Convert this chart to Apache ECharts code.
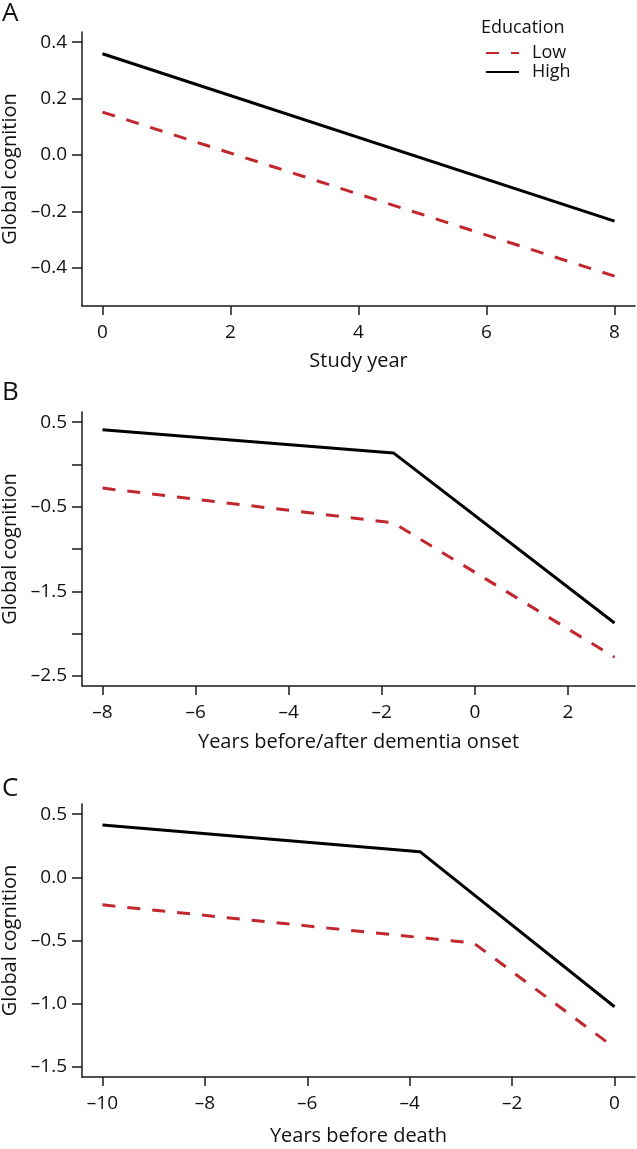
<!DOCTYPE html>
<html><head><meta charset="utf-8">
<script src="https://cdn.jsdelivr.net/npm/echarts@6/dist/echarts.min.js"></script>
<style>html,body{margin:0;padding:0;background:#fff}#c{width:637px;height:1149px}</style>
</head><body><div id="c"></div>
<script>
// ---- text ----
const panelLetters = ['A', 'B', 'C'];
const xTitles = ['Study year', 'Years before/after dementia onset', 'Years before death'];
const yTitle = 'Global cognition';
const legendTitle = 'Education';
const seriesNames = ['Low', 'High'];

// ---- Panel A ----
const xLowA = [0, 8];
const lowA = [0.152, -0.43];
const xHighA = [0, 8];
const highA = [0.359, -0.235];
const xTicksA = [0, 2, 4, 6, 8];
const yTicksA = [-0.4, -0.2, 0.0, 0.2, 0.4];
const yLabelsA = [-0.4, -0.2, 0.0, 0.2, 0.4];

// ---- Panel B ----
const xLowB = [-8, -1.75, 3];
const lowB = [-0.28, -0.69, -2.28];
const xHighB = [-8, -1.75, 3];
const highB = [0.41, 0.136, -1.875];
const xTicksB = [-8, -6, -4, -2, 0, 2];
const yTicksB = [-2.5, -2.0, -1.5, -1.0, -0.5, 0.0, 0.5];
const yLabelsB = [-2.5, -1.5, -0.5, 0.5];

// ---- Panel C ----
const xLowC = [-10, -2.75, 0];
const lowC = [-0.218, -0.52, -1.348];
const xHighC = [-10, -3.8, 0];
const highC = [0.413, 0.203, -1.024];
const xTicksC = [-10, -8, -6, -4, -2, 0];
const yTicksC = [-1.5, -1.0, -0.5, 0.0, 0.5];
const yLabelsC = [-1.5, -1.0, -0.5, 0.0, 0.5];

// axis limits (before 4% expansion)
const xLims = [[0, 8], [-8, 3], [-10, 0]];
const yLims = [[-0.5, 0.4], [-2.5, 0.5], [-1.5, 0.5]];

const FONT = 'Open Sans';
const RED = '#C1272D';
const BLACK = '#000000';
const AXC = '#1a1a1a';

function expand(l) { const d = (l[1] - l[0]) * 0.04; return [l[0] - d, l[1] + d]; }
function dash(s) { return String(s).replace('-', '\u2013'); }

const panels = [
  {xl: xLowA, yl: lowA, xh: xHighA, yh: highA, xt: xTicksA, yt: yTicksA, ylab: yLabelsA, dec: 1},
  {xl: xLowB, yl: lowB, xh: xHighB, yh: highB, xt: xTicksB, yt: yTicksB, ylab: yLabelsB, dec: 1},
  {xl: xLowC, yl: lowC, xh: xHighC, yh: highC, xt: xTicksC, yt: yTicksC, ylab: yLabelsC, dec: 1}
];
const gridTops = [32, 412, 804];
const gridHeights = [274, 274, 273];
const nameGaps = [45, 46, 49];

const grid = [], xAxis = [], yAxis = [], series = [];
panels.forEach((p, i) => {
  grid.push({left: 82, right: 2, top: gridTops[i], height: gridHeights[i],
    containLabel: false, outerBoundsMode: 'none'});
  const xr = expand(xLims[i]), yr = expand(yLims[i]);
  xAxis.push({
    type: 'value', gridIndex: i, min: xr[0], max: xr[1],
    name: xTitles[i], nameLocation: 'middle', nameGap: nameGaps[i],
    nameTextStyle: {fontFamily: FONT, fontSize: 20, color: '#111'},
    axisLine: {show: true, onZero: false, lineStyle: {color: AXC, width: 1.5}},
    axisTick: {show: true, length: 9, lineStyle: {color: AXC, width: 1.5}, customValues: p.xt},
    axisLabel: {show: true, margin: 17, fontFamily: FONT, fontSize: 19, color: '#111',
      customValues: p.xt, formatter: v => dash(Math.round(v))},
    splitLine: {show: false}
  });
  yAxis.push({
    type: 'value', gridIndex: i, min: yr[0], max: yr[1],
    name: yTitle, nameLocation: 'middle', nameGap: 55, nameRotate: 90,
    nameTextStyle: {fontFamily: FONT, fontSize: 20, color: '#111'},
    axisLine: {show: true, onZero: false, lineStyle: {color: AXC, width: 1.5}},
    axisTick: {show: true, length: 10, lineStyle: {color: AXC, width: 1.5}, customValues: p.yt},
    axisLabel: {show: true, margin: 15, fontFamily: FONT, fontSize: 19, color: '#111',
      customValues: p.ylab, formatter: v => dash(Number(v).toFixed(p.dec))},
    splitLine: {show: false}
  });
  series.push({
    name: seriesNames[0], type: 'line', xAxisIndex: i, yAxisIndex: i,
    data: p.xl.map((x, k) => [x, p.yl[k]]), symbol: 'none', silent: true,
    lineStyle: {color: RED, width: 3, type: [13, 12], cap: 'butt'},
    itemStyle: {color: RED}
  });
  series.push({
    name: seriesNames[1], type: 'line', xAxisIndex: i, yAxisIndex: i,
    data: p.xh.map((x, k) => [x, p.yh[k]]), symbol: 'none', silent: true,
    lineStyle: {color: BLACK, width: 3, type: 'solid'},
    itemStyle: {color: BLACK}
  });
});

const letterTops = [1, 380, 776];
const title = panelLetters.map((t, i) => ({
  text: t, left: 2, top: letterTops[i], padding: 0,
  textStyle: {fontFamily: FONT, fontSize: 26, fontWeight: 'normal', color: '#111'}
}));
title.push({text: legendTitle, left: 481, top: 19, padding: 0,
  textStyle: {fontFamily: FONT, fontSize: 18, fontWeight: 'normal', color: '#111'}});

const chart = echarts.init(document.getElementById('c'), null, {renderer: 'canvas'});
chart.setOption({
  animation: false,
  backgroundColor: '#fff',
  title: title,
  legend: {
    data: seriesNames, orient: 'vertical', left: 485, top: 44, padding: 0,
    itemWidth: 33, itemHeight: 14, itemGap: 1, selectedMode: false,
    itemStyle: {opacity: 0, borderWidth: 0},
    textStyle: {fontFamily: FONT, fontSize: 18, color: '#111', padding: [0, 0, 0, 8]}
  },
  grid: grid, xAxis: xAxis, yAxis: yAxis, series: series
});
</script></body></html>
